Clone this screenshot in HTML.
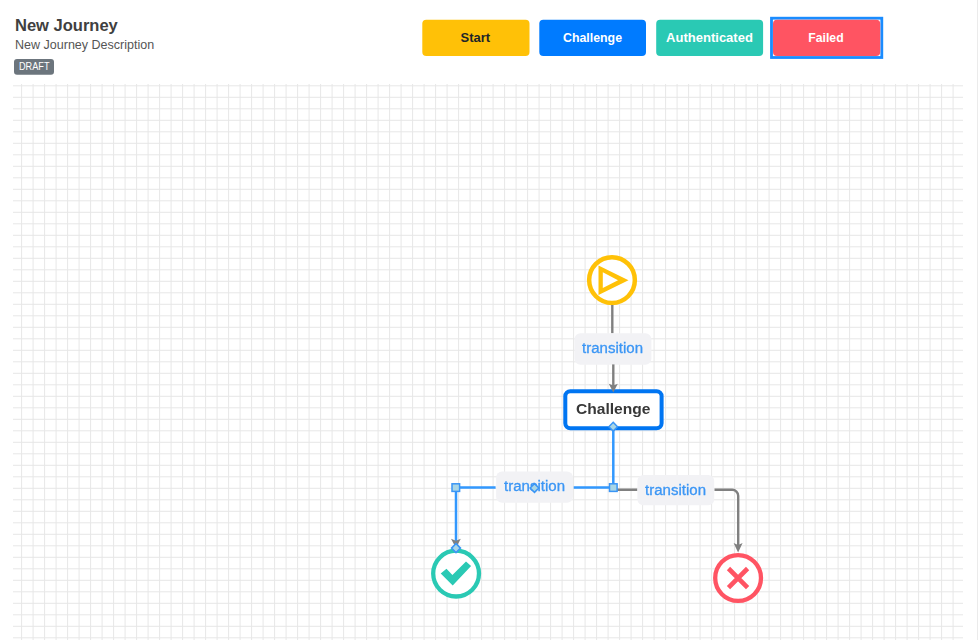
<!DOCTYPE html>
<html><head><meta charset="utf-8">
<style>
html,body{margin:0;padding:0;background:#fff;width:978px;height:640px;overflow:hidden;position:relative;font-family:"Liberation Sans",sans-serif;}
svg{position:absolute;left:0;top:0;}
#rline{position:absolute;left:977px;top:0;width:1px;height:640px;background:#ebebeb;}
</style></head><body>
<div id="rline"></div>
<svg width="978" height="640" viewBox="0 0 978 640" font-family="Liberation Sans, sans-serif">
<path d="M21.6 84V640M33.1 84V640M44.6 84V640M56.1 84V640M67.6 84V640M79.1 84V640M90.6 84V640M102.1 84V640M113.6 84V640M125.1 84V640M136.6 84V640M148.1 84V640M159.6 84V640M171.1 84V640M182.6 84V640M194.1 84V640M205.6 84V640M217.1 84V640M228.6 84V640M240.1 84V640M251.6 84V640M263.1 84V640M274.6 84V640M286.1 84V640M297.6 84V640M309.1 84V640M320.6 84V640M332.1 84V640M343.6 84V640M355.1 84V640M366.6 84V640M378.1 84V640M389.6 84V640M401.1 84V640M412.6 84V640M424.1 84V640M435.6 84V640M447.1 84V640M458.6 84V640M470.1 84V640M481.6 84V640M493.1 84V640M504.6 84V640M516.1 84V640M527.6 84V640M539.1 84V640M550.6 84V640M562.1 84V640M573.6 84V640M585.1 84V640M596.6 84V640M608.1 84V640M619.6 84V640M631.1 84V640M642.6 84V640M654.1 84V640M665.6 84V640M677.1 84V640M688.6 84V640M700.1 84V640M711.6 84V640M723.1 84V640M734.6 84V640M746.1 84V640M757.6 84V640M769.1 84V640M780.6 84V640M792.1 84V640M803.6 84V640M815.1 84V640M826.6 84V640M838.1 84V640M849.6 84V640M861.1 84V640M872.6 84V640M884.1 84V640M895.6 84V640M907.1 84V640M918.6 84V640M930.1 84V640M941.6 84V640M953.1 84V640M13 85.8H963M13 97.3H963M13 108.8H963M13 120.3H963M13 131.8H963M13 143.3H963M13 154.8H963M13 166.3H963M13 177.8H963M13 189.3H963M13 200.8H963M13 212.3H963M13 223.8H963M13 235.3H963M13 246.8H963M13 258.3H963M13 269.8H963M13 281.3H963M13 292.8H963M13 304.3H963M13 315.8H963M13 327.3H963M13 338.8H963M13 350.3H963M13 361.8H963M13 373.3H963M13 384.8H963M13 396.3H963M13 407.8H963M13 419.3H963M13 430.8H963M13 442.3H963M13 453.8H963M13 465.3H963M13 476.8H963M13 488.3H963M13 499.8H963M13 511.3H963M13 522.8H963M13 534.3H963M13 545.8H963M13 557.3H963M13 568.8H963M13 580.3H963M13 591.8H963M13 603.3H963M13 614.8H963M13 626.3H963M13 637.8H963" stroke="#e7e7e7" stroke-width="1" fill="none"/>
<!-- header -->
<text x="15" y="31.1" font-size="15.6" font-weight="bold" fill="#404040" textLength="102.8" lengthAdjust="spacingAndGlyphs">New Journey</text>
<text x="15" y="49.3" font-size="12.5" fill="#555" textLength="139.2" lengthAdjust="spacingAndGlyphs">New Journey Description</text>
<rect x="14" y="59.1" width="40" height="15.7" rx="3" fill="#6c757d"/>
<text x="19" y="70" font-size="10.5" fill="#fff" textLength="30.5" lengthAdjust="spacingAndGlyphs">DRAFT</text>
<!-- buttons -->
<rect x="422.3" y="19.8" width="107.2" height="36.1" rx="4" fill="#ffc107"/>
<text x="460.6" y="41.5" font-size="13" font-weight="bold" fill="#212529" textLength="29.5" lengthAdjust="spacingAndGlyphs">Start</text>
<rect x="539.3" y="19.8" width="106.7" height="36.1" rx="4" fill="#007bff"/>
<text x="563" y="41.5" font-size="13" font-weight="bold" fill="#fff" textLength="59" lengthAdjust="spacingAndGlyphs">Challenge</text>
<rect x="656.2" y="19.8" width="106.9" height="36.1" rx="4" fill="#2ac9b4"/>
<text x="666.1" y="41.5" font-size="13" font-weight="bold" fill="#fff" textLength="86.8" lengthAdjust="spacingAndGlyphs">Authenticated</text>
<rect x="771.5" y="18.2" width="110.3" height="39.3" fill="none" stroke="#1a8cff" stroke-width="2.8"/>
<rect x="773" y="19.8" width="107.2" height="36.2" rx="4" fill="#ff5462"/>
<text x="808.3" y="41.5" font-size="13" font-weight="bold" fill="#fff" textLength="35.3" lengthAdjust="spacingAndGlyphs">Failed</text>
</svg>
<svg width="978" height="640" viewBox="0 0 978 640" font-family="Liberation Sans, sans-serif" style="will-change:transform">
<!-- start node -->
<circle cx="612" cy="280.1" r="22.85" fill="#fff" stroke="#ffc107" stroke-width="4.5"/>
<path d="M598.5 265.5L628.5 280.3L598.5 295ZM602.8 272.2L602.8 288.1L618 280.2Z" fill="#ffc107" fill-rule="evenodd"/>
<!-- gray connector 1 -->
<path d="M612.3 305V333.3" stroke="#808080" stroke-width="2.4"/>
<rect x="574.4" y="333.2" width="77" height="31.6" rx="6" fill="#f2f2f5"/>
<text x="582" y="353.2" font-size="14" fill="#3b96f5" stroke="#3b96f5" stroke-width="0.3" textLength="61" lengthAdjust="spacingAndGlyphs">transition</text>
<path d="M613.3 364.4V386" stroke="#808080" stroke-width="2.4"/>
<!-- challenge node -->
<rect x="565.3" y="391.2" width="96.3" height="37.1" rx="5" fill="#fff" stroke="#0075f2" stroke-width="4"/>
<text x="576" y="413.7" font-size="14" font-weight="bold" fill="#383838" textLength="74.4" lengthAdjust="spacingAndGlyphs">Challenge</text>
<path d="M608.8 383.8L613.3 385.6L617.8 383.8L613.3 392.5Z" fill="#808080"/>
<!-- blue connectors -->
<path d="M613.3 430V487.6M609.2 487.6H573.7M495.6 487.6H456V548" stroke="#3298fe" stroke-width="2.5" fill="none"/>
<!-- gray connector 3 -->
<path d="M617 489.8H637.4M714.4 489.8H732.2A6 6 0 0 1 738.2 495.8V546" stroke="#808080" stroke-width="2.4" fill="none"/>
<path d="M733.6 543.1L738.1 545L742.6 543.1L738.1 552.5Z" fill="#808080"/>
<!-- label 2,3 -->
<rect x="496.1" y="471.6" width="76.9" height="31.2" rx="6" fill="#f2f2f5"/>
<text x="504" y="491.4" font-size="14" fill="#3b96f5" stroke="#3b96f5" stroke-width="0.3" textLength="61" lengthAdjust="spacingAndGlyphs">transition</text>
<rect x="637.4" y="474.9" width="76.8" height="30.4" rx="6" fill="#f2f2f5"/>
<text x="645" y="494.7" font-size="14" fill="#3b96f5" stroke="#3b96f5" stroke-width="0.3" textLength="61" lengthAdjust="spacingAndGlyphs">transition</text>
<!-- gray arrow into check -->
<path d="M451 538.8L455.9 540.8L460.8 538.8L455.9 548Z" fill="#808080"/>
<!-- check node -->
<circle cx="456.1" cy="573.6" r="22.9" fill="#fff" stroke="#2ac9b4" stroke-width="4.3"/>
<path d="M440.7 573.4L446.5 568.7L452.4 575.1L466 561.4L471.1 565.9L452.7 585.6Z" fill="#2ac9b4"/>
<!-- failed node -->
<circle cx="738.1" cy="578" r="22.9" fill="#fff" stroke="#ff5463" stroke-width="4.3"/>
<path d="M728.5 568.5L747.6 587.6M747.6 568.5L728.5 587.6" stroke="#ff5463" stroke-width="4.6"/>
<!-- handles -->
<rect x="452" y="483.8" width="7.6" height="7.6" fill="#a9d6e6" stroke="#3a95f5" stroke-width="1.5"/>
<rect x="609.5" y="483.8" width="7.6" height="7.6" fill="#a9d6e6" stroke="#3a95f5" stroke-width="1.5"/>
<path d="M613.2 422.3L617.5 426.7L613.2 431.1L608.9 426.7Z" fill="#a9d6e6" stroke="#3a95f5" stroke-width="1.5"/>
<path d="M534.5 483.6L538.9 488L534.5 492.4L530.1 488Z" fill="#a9d6e6" stroke="#3a95f5" stroke-width="1.5"/>
<path d="M456 543.6L460.5 548.1L456 552.6L451.5 548.1Z" fill="#a9d6e6" stroke="#3a95f5" stroke-width="1.5"/>
</svg>
</body></html>
